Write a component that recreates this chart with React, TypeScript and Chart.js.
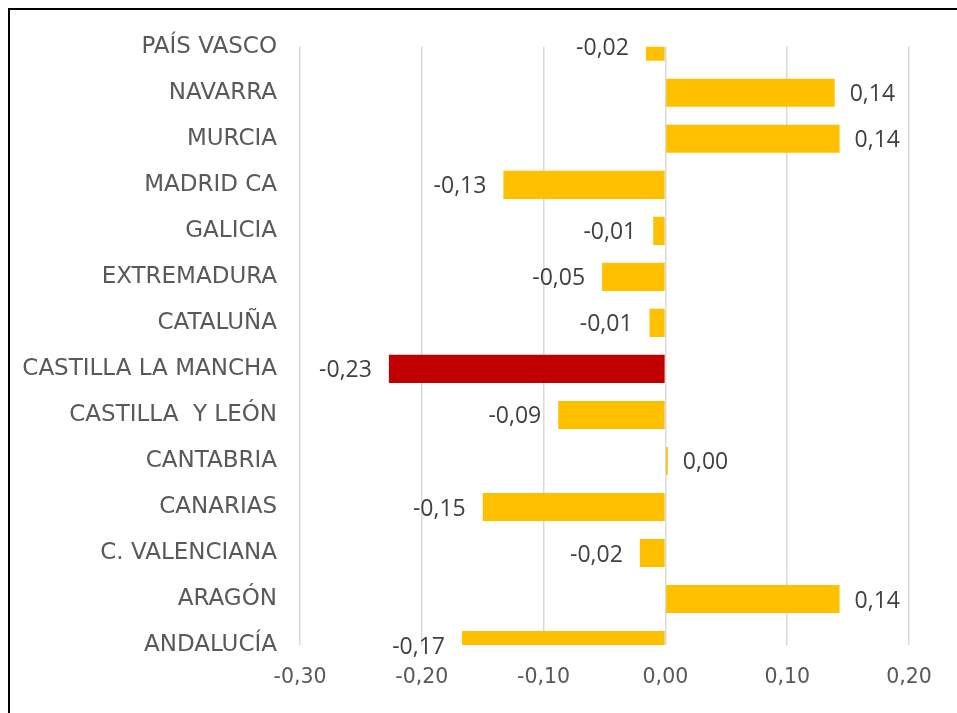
import React, { useEffect, useRef } from "react";
import { Chart, registerables } from "chart.js";

Chart.register(...registerables);

const categories = [
  "PAÍS VASCO",
  "NAVARRA",
  "MURCIA",
  "MADRID CA",
  "GALICIA",
  "EXTREMADURA",
  "CATALUÑA",
  "CASTILLA LA MANCHA",
  "CASTILLA  Y LEÓN",
  "CANTABRIA",
  "CANARIAS",
  "C. VALENCIANA",
  "ARAGÓN",
  "ANDALUCÍA",
];

const values = [
  -0.016, 0.139, 0.143, -0.133, -0.010, -0.052, -0.013, -0.227, -0.088, 0.002,
  -0.150, -0.021, 0.143, -0.167,
];

const highlighted = ["CASTILLA LA MANCHA"];

const xMin = -0.3;
const xMax = 0.2;
const xStep = 0.1;

const fmt = (v: number) => {
  const s = (Math.round(v * 100) / 100).toFixed(2).replace(".", ",");
  return s === "-0,00" ? "0,00" : s;
};

const dataLabelPlugin = {
  id: "dataLabels",
  afterDatasetsDraw(chart: any) {
    const ctx = chart.ctx;
    const meta = chart.getDatasetMeta(0);
    const data = chart.data.datasets[0].data as number[];
    ctx.save();
    ctx.font = '23px "Open Sans"';
    ctx.fillStyle = "#404040";
    ctx.textBaseline = "middle";
    meta.data.forEach((el: any, i: number) => {
      const v = data[i];
      if (v >= 0) {
        ctx.textAlign = "left";
        ctx.fillText(fmt(v), el.x + 15, el.y + 2);
      } else {
        ctx.textAlign = "right";
        ctx.fillText(fmt(v), el.x - 17, el.y + 2);
      }
    });
    ctx.restore();
  },
};

export default function App() {
  const ref = useRef<HTMLCanvasElement | null>(null);

  useEffect(() => {
    if (!ref.current) return;
    const chart = new Chart(ref.current, {
      type: "bar",
      data: {
        labels: categories,
        datasets: [
          {
            data: values,
            backgroundColor: categories.map((c) =>
              highlighted.includes(c) ? "#C00000" : "#FFC000"
            ),
            borderWidth: 0,
            categoryPercentage: 1,
            barPercentage: 0.61,
            clip: 0 as any,
          },
        ],
      },
      options: {
        indexAxis: "y",
        animation: false,
        responsive: false,
        devicePixelRatio: 1,
        layout: { padding: { top: 36, right: 48, left: 0, bottom: 0 } },
        plugins: {
          legend: { display: false },
          tooltip: { enabled: false },
          title: { display: false },
        },
        scales: {
          x: {
            type: "linear",
            min: xMin,
            max: xMax,
            afterFit: (s: any) => {
              s.height = 68;
            },
            ticks: {
              stepSize: xStep,
              padding: 20,
              color: "#595959",
              font: { family: '"DejaVu Sans"', size: 20.5 },
              callback: (v: any) => fmt(Number(v)),
            },
            grid: {
              color: "#d9d9d9",
              lineWidth: 1.5,
              drawTicks: false,
            },
            border: { display: false },
          },
          y: {
            type: "category",
            offset: false,
            afterFit: (s: any) => {
              s.width = 290;
            },
            ticks: {
              padding: 23,
              color: "#595959",
              font: { family: '"DejaVu Sans"', size: 23 },
              autoSkip: false,
            },
            grid: { display: false, drawTicks: false },
            border: { display: false },
          },
        },
      },
      plugins: [dataLabelPlugin],
    } as any);
    return () => chart.destroy();
  }, []);

  return (
    <div
      style={{
        position: "fixed",
        left: 8,
        top: 8,
        width: 949,
        height: 705,
        borderTop: "2px solid #000",
        borderLeft: "2px solid #000",
        boxSizing: "border-box",
        background: "#fff",
        overflow: "hidden",
      }}
    >
      <canvas ref={ref} width={947} height={703} style={{ display: "block" }} />
    </div>
  );
}
